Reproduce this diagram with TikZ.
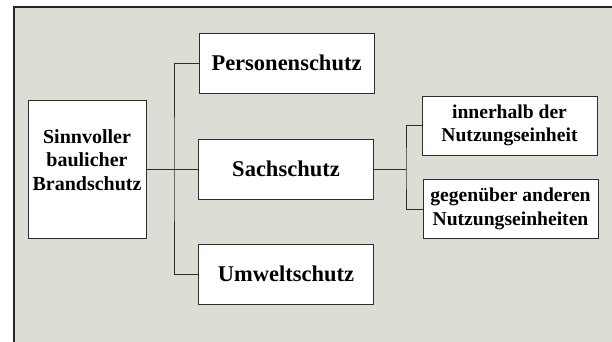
\documentclass[tikz,border=0pt]{standalone}
\usepackage{fontspec}
\setmainfont{Liberation Serif}
\usepackage{tikz}
\usetikzlibrary{positioning}
\usepackage{xcolor}
\definecolor{bggray}{RGB}{221,220,213}
\definecolor{linegray}{RGB}{45,45,45}

\begin{document}
\begin{tikzpicture}[x=1pt, y=-1pt,
    box/.style={draw=linegray, line width=0.9pt, fill=white, align=center,
        inner sep=2pt, font=\bfseries},
    bigbox/.style={box, minimum width=175pt, minimum height=60pt,
        font=\fontsize{22.5}{26}\selectfont\bfseries},
    smallbox/.style={box, minimum width=175pt, minimum height=59pt,
        font=\fontsize{19.6}{23.6}\selectfont\bfseries},
    link/.style={draw=linegray, line width=0.9pt}]
    \useasboundingbox (0,0) rectangle (612,342);
    % Background panel
    \fill[bggray] (14,7) rectangle (612,342);
    \draw[line width=1.3pt, black!85] (14,342) -- (14,7) -- (612,7);

    % Root
    \node[box, minimum width=118pt, minimum height=138pt, text depth=18pt,
        font=\fontsize{20}{23.5}\selectfont\bfseries] (brand) at (87,169)
        {Sinnvoller\\baulicher\\Brandschutz};

    % First level
    \node[bigbox] (person) at (286.5,63) {Personenschutz};
    \node[bigbox] (sach) at (286,169) {Sachschutz};
    \node[bigbox] (umwelt) at (286,274) {Umweltschutz};

    % Second level
    \node[smallbox] (innen) at (509.5,125.5) {innerhalb der\\Nutzungseinheit};
    \node[smallbox] (andere) at (510.5,209) {gegenüber anderen\\Nutzungseinheiten};

    \coordinate (split1) at (174,169);
    \coordinate (split2) at (406,169);

    \draw[link] (brand.east) -- (sach.west);
    \draw[link] (person.west) -| (split1) |- (umwelt.west);
    \draw[link] (sach.east) -- (split2);
    \draw[link] (innen.west) -| (split2) |- (andere.west);
\end{tikzpicture}
\end{document}
